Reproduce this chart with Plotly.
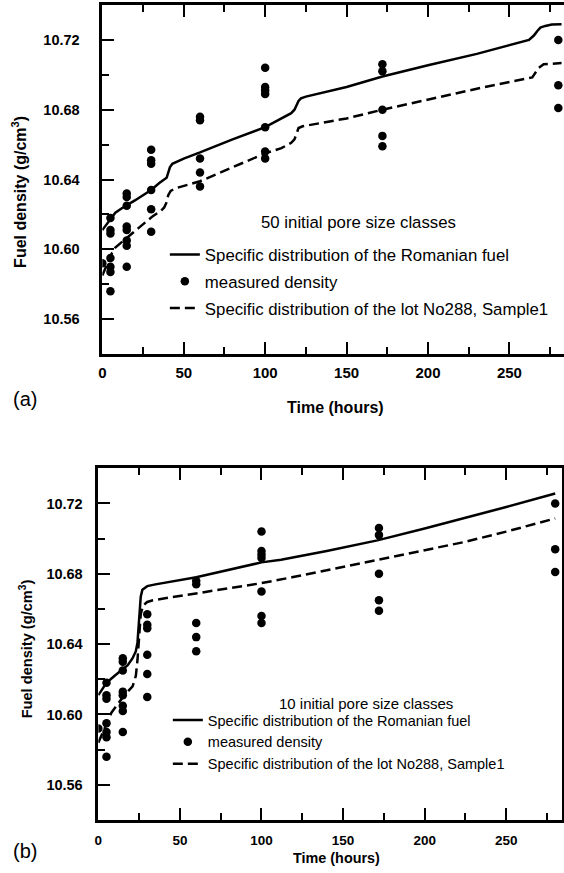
import plotly.graph_objects as go

W, H = 564, 873

# ---------------- data ----------------
t_meas = [0,
          5, 5, 5, 5, 5, 5, 5,
          15, 15, 15, 15, 15, 15, 15, 15,
          30, 30, 30, 30, 30, 30,
          60, 60, 60, 60, 60,
          100, 100, 100, 100, 100, 100, 100,
          172, 172, 172, 172, 172,
          280, 280, 280]
rho_meas = [10.592,
            10.618, 10.611, 10.609, 10.595, 10.590, 10.587, 10.576,
            10.632, 10.630, 10.625, 10.613, 10.611, 10.605, 10.602, 10.590,
            10.657, 10.651, 10.649, 10.634, 10.623, 10.610,
            10.676, 10.674, 10.652, 10.644, 10.636,
            10.704, 10.693, 10.691, 10.689, 10.670, 10.656, 10.652,
            10.706, 10.702, 10.680, 10.665, 10.659,
            10.720, 10.694, 10.681]

# (a) 50 initial pore size classes
t_rom50 = [0, 3, 6, 8, 12, 16, 20, 25, 30, 35, 38, 39.5, 40.5, 41.5, 43, 50, 60, 80, 100,
           110, 116, 118, 119.5, 120.5, 122, 125, 150, 172, 200, 230, 262, 265, 267, 269,
           272, 276, 282]
rho_rom50 = [10.611, 10.615, 10.619, 10.621, 10.6235, 10.626, 10.628, 10.631, 10.634, 10.638,
             10.640, 10.641, 10.644, 10.647, 10.649, 10.652, 10.6555, 10.663, 10.670,
             10.675, 10.678, 10.680, 10.683, 10.685, 10.6865, 10.6875, 10.693, 10.699,
             10.7055, 10.712, 10.720, 10.7225, 10.725, 10.727, 10.728, 10.7288, 10.729]

t_lot50 = [0, 3, 6, 8, 12, 16, 22, 31, 36, 38, 39.5, 40.5, 42, 45, 52, 60, 80, 100, 110,
           116, 118, 119.5, 120.5, 123, 150, 172, 200, 230, 264, 266, 268, 271, 282]
rho_lot50 = [10.585, 10.592, 10.598, 10.601, 10.604, 10.607, 10.612, 10.619, 10.622, 10.624,
             10.627, 10.631, 10.6335, 10.635, 10.637, 10.639, 10.647, 10.655, 10.658,
             10.661, 10.663, 10.667, 10.6695, 10.6705, 10.675, 10.680, 10.686, 10.692,
             10.6985, 10.701, 10.704, 10.706, 10.7067]

# (b) 10 initial pore size classes
t_rom10 = [0, 3, 5, 10, 15, 18, 21, 23, 24, 24.7, 25.3, 26, 27, 30, 35, 60, 100, 112, 140,
           171, 200, 224, 250, 280]
rho_rom10 = [10.611, 10.615, 10.618, 10.622, 10.6255, 10.628, 10.632, 10.636, 10.641, 10.650,
             10.660, 10.667, 10.671, 10.673, 10.674, 10.678, 10.6865, 10.688, 10.693,
             10.699, 10.7058, 10.7115, 10.718, 10.7257]

t_lot10 = [0, 4, 8, 12, 16, 21, 23, 24, 25, 26, 27.4, 30, 33.5, 60, 100, 118.6, 171, 200,
           224, 250, 280]
rho_lot10 = [10.584, 10.593, 10.601, 10.606, 10.611, 10.616, 10.622, 10.631, 10.646, 10.657,
             10.662, 10.664, 10.665, 10.669, 10.6747, 10.678, 10.688, 10.6935, 10.698,
             10.704, 10.7115]

name_rom = "Specific distribution of the Romanian fuel"
name_meas = "measured density"
name_lot = "Specific distribution of the lot No288, Sample1"
x_title = "Time (hours)"
y_title = "Fuel density (g/cm<sup>3</sup>)"
note_a = "50 initial pore size classes"
note_b = "10 initial pore size classes"

FONT = "Arial, Liberation Sans, Helvetica, sans-serif"


def px(x):
    return x / W


def py(y):
    return 1 - y / H


fig = go.Figure()

# top panel traces
fig.add_trace(go.Scatter(x=t_rom50, y=rho_rom50, mode="lines", name=name_rom,
                         line=dict(color="black", width=2.5), xaxis="x", yaxis="y",
                         legend="legend", legendgroup="a1"))
fig.add_trace(go.Scatter(x=t_meas, y=rho_meas, mode="markers", name=name_meas,
                         marker=dict(color="black", size=8.5), xaxis="x", yaxis="y",
                         legend="legend", legendgroup="a2"))
fig.add_trace(go.Scatter(x=t_lot50, y=rho_lot50, mode="lines", name=name_lot,
                         line=dict(color="black", width=2.5, dash="10px,5px"),
                         xaxis="x", yaxis="y", legend="legend", legendgroup="a3"))

# bottom panel traces
fig.add_trace(go.Scatter(x=t_rom10, y=rho_rom10, mode="lines", name=name_rom,
                         line=dict(color="black", width=2.5), xaxis="x2", yaxis="y2",
                         legend="legend2", legendgroup="b1"))
fig.add_trace(go.Scatter(x=t_meas, y=rho_meas, mode="markers", name=name_meas,
                         marker=dict(color="black", size=8.5), xaxis="x2", yaxis="y2",
                         legend="legend2", legendgroup="b2"))
fig.add_trace(go.Scatter(x=t_lot10, y=rho_lot10, mode="lines", name=name_lot,
                         line=dict(color="black", width=2.5, dash="10px,5px"),
                         xaxis="x2", yaxis="y2", legend="legend2", legendgroup="b3"))


def xax(domain, rng, fsize, anchor, standoff):
    return dict(domain=domain, range=rng, anchor=anchor, showgrid=False, zeroline=False,
                showline=True, linecolor="black", linewidth=2.5, mirror="ticks",
                ticks="inside", ticklen=12, tickwidth=2, tickcolor="black",
                tick0=0, dtick=50,
                minor=dict(dtick=25, ticks="inside", ticklen=7, tickwidth=2,
                           tickcolor="black"),
                tickfont=dict(family=FONT, size=fsize, color="black", weight="bold"),
                ticklabelstandoff=standoff)


def yax(domain, fsize, anchor, mirror, standoff):
    return dict(domain=domain, range=[10.54, 10.74], anchor=anchor, showgrid=False,
                zeroline=False, showline=True, linecolor="black", linewidth=2.5,
                mirror=mirror, ticks="inside", ticklen=12, tickwidth=2, tickcolor="black",
                tick0=10.56, dtick=0.04, tickformat=".2f",
                minor=dict(dtick=0.02, ticks="inside", ticklen=7, tickwidth=2,
                           tickcolor="black"),
                tickfont=dict(family=FONT, size=fsize, color="black", weight="bold"),
                ticklabelstandoff=standoff)


fig.update_layout(
    width=W, height=H,
    margin=dict(l=0, r=0, t=0, b=0),
    paper_bgcolor="white", plot_bgcolor="white",
    font=dict(family=FONT, color="black"),
    xaxis=xax([px(99), 1.0], [0, 283.5], 15, "y", 3),
    yaxis=yax([py(354), py(5)], 14.5, "x", False, 17),
    xaxis2=xax([px(95), px(561.7)], [0, 284], 13.5, "y2", 6),
    yaxis2=yax([py(820), py(468.3)], 14.5, "x2", True, 10),
    legend=dict(x=px(162), y=py(237), xanchor="left", yanchor="top",
                bgcolor="rgba(0,0,0,0)", font=dict(family=FONT, size=16.8),
                traceorder="grouped", tracegroupgap=2),
    legend2=dict(x=px(165), y=py(704), xanchor="left", yanchor="top",
                 bgcolor="rgba(0,0,0,0)", font=dict(family=FONT, size=14.5),
                 traceorder="grouped", tracegroupgap=0),
    showlegend=True,
)

ann = [
    dict(text=note_a, x=px(256.7), y=py(222), size=16.8),
    dict(text=note_b, x=px(275), y=py(703.3), size=15),
    dict(text="(a)", x=px(7), y=py(399), size=20),
    dict(text="(b)", x=px(7), y=py(851), size=20),
]
for a in ann:
    fig.add_annotation(text=a["text"], x=a["x"], y=a["y"], xref="paper", yref="paper",
                       xanchor="left", yanchor="middle", showarrow=False,
                       font=dict(family=FONT, size=a["size"], color="black"))

# axis titles
fig.add_annotation(text=x_title, x=px(334), y=py(407), xref="paper", yref="paper",
                   xanchor="center", yanchor="middle", showarrow=False,
                   font=dict(family=FONT, size=16, color="black", weight="bold"))
fig.add_annotation(text=x_title, x=px(335), y=py(858), xref="paper", yref="paper",
                   xanchor="center", yanchor="middle", showarrow=False,
                   font=dict(family=FONT, size=14.4, color="black", weight="bold"))
fig.add_annotation(text=y_title, x=px(15), y=py(192), xref="paper", yref="paper",
                   xanchor="center", yanchor="middle", showarrow=False, textangle=-90,
                   font=dict(family=FONT, size=16, color="black", weight="bold"))
fig.add_annotation(text=y_title, x=px(22.5), y=py(649), xref="paper", yref="paper",
                   xanchor="center", yanchor="middle", showarrow=False, textangle=-90,
                   font=dict(family=FONT, size=14.6, color="black", weight="bold"))

fig.write_html("out.html")
